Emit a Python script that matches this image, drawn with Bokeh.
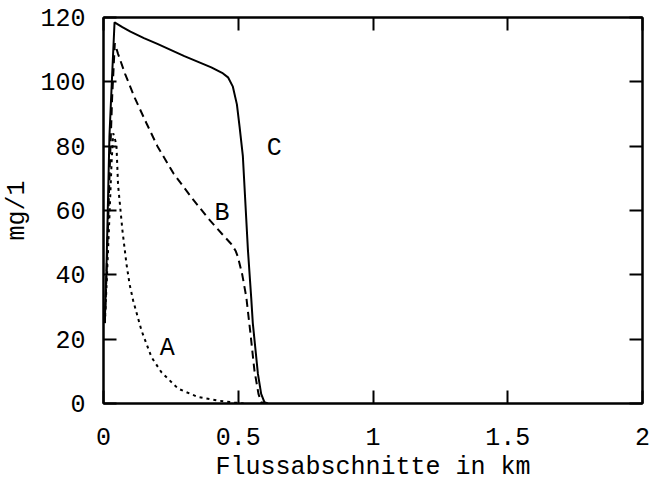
from bokeh.plotting import figure
from bokeh.models import LinearAxis, FixedTicker, Label
from bokeh.embed import file_html
from bokeh.resources import INLINE

# Curve A (dotted)
xa = [0.005, 0.012, 0.022, 0.030, 0.036, 0.048, 0.054, 0.070, 0.085, 0.097, 0.110, 0.141, 0.178, 0.215, 0.277, 0.351, 0.425, 0.485, 0.52]
ya = [25, 38, 58, 75, 84, 80.5, 68, 54, 43.5, 37, 32, 22.7, 14.4, 9.7, 4.6, 2.0, 0.9, 0.3, 0.0]

# Curve B (dashed)
xb = [0.005, 0.012, 0.022, 0.032, 0.042, 0.054, 0.080, 0.116, 0.159, 0.200, 0.260, 0.326, 0.388, 0.440, 0.474, 0.490, 0.499, 0.515, 0.530, 0.545, 0.560, 0.575, 0.585, 0.600]
yb = [25, 42, 70, 95, 112, 108.7, 102.5, 95.0, 87.2, 80.0, 71.5, 64.1, 57.6, 52.7, 49.6, 47.5, 45.5, 40, 33, 22, 10.3, 3, 0.4, 0.0]

# Curve C (solid)
xc = [0.005, 0.011, 0.022, 0.032, 0.041, 0.070, 0.100, 0.150, 0.200, 0.300, 0.400, 0.440, 0.462, 0.480, 0.495, 0.505, 0.517, 0.536, 0.548, 0.554, 0.573, 0.585, 0.597, 0.610]
yc = [26, 42, 83, 102, 118.5, 117, 115.6, 113.6, 111.8, 108, 104.5, 102.8, 101.4, 98.5, 93, 86, 77, 47.6, 33, 25, 9.2, 3, 0.4, 0.0]

curve_labels = ["A", "B", "C"]
label_x = [0.237, 0.44, 0.634]
label_y = [17, 59.2, 79.2]

x_ticks = [0, 0.5, 1, 1.5, 2]
x_tick_labels = ["0", "0.5", "1", "1.5", "2"]
y_ticks = [0, 20, 40, 60, 80, 100, 120]

FONT = "Liberation Mono"
FS = "25px"

p = figure(width=653, height=485, x_range=(0, 2), y_range=(0, 120),
           output_backend="svg", toolbar_location=None,
           x_axis_location=None, y_axis_location=None,
           min_border_left=102, min_border_right=11, min_border_top=17, min_border_bottom=82)
p.grid.visible = False
p.outline_line_color = "black"
p.outline_line_width = 2
p.background_fill_color = "white"
p.border_fill_color = "white"

def make_axis(ticks, labels=True):
    ax = LinearAxis(ticker=FixedTicker(ticks=ticks))
    ax.major_tick_in = 13
    ax.major_tick_out = 0
    ax.minor_tick_line_color = None
    ax.axis_line_color = "black"
    ax.axis_line_width = 2
    ax.major_tick_line_width = 2
    ax.major_tick_line_color = "black"
    ax.major_label_text_font = FONT
    ax.major_label_text_font_size = FS if labels else "0px"
    ax.major_label_text_color = "black"
    ax.axis_label_text_font = FONT
    ax.axis_label_text_font_size = FS
    ax.axis_label_text_font_style = "normal"
    ax.axis_label_text_color = "black"
    if not labels:
        ax.major_label_standoff = 0
        ax.major_label_text_color = None
    return ax

xb_axis = make_axis(x_ticks)
xb_axis.major_label_overrides = {t: l for t, l in zip(x_ticks, x_tick_labels)}
xb_axis.axis_label = "Flussabschnitte in km"
xb_axis.major_label_standoff = 24
xb_axis.axis_label_standoff = 5
p.add_layout(xb_axis, "below")

yl_axis = make_axis(y_ticks)
yl_axis.axis_label = "mg/1"
yl_axis.major_label_standoff = 18
yl_axis.axis_label_standoff = 5
p.add_layout(yl_axis, "left")

p.add_layout(make_axis(x_ticks, labels=False), "above")
p.add_layout(make_axis(y_ticks, labels=False), "right")

p.line(xa, ya, line_color="black", line_width=2, line_dash="3 4")
p.line(xb, yb, line_color="black", line_width=2, line_dash="8 5")
p.line(xc, yc, line_color="black", line_width=2)

for t, lx, ly in zip(curve_labels, label_x, label_y):
    p.add_layout(Label(x=lx, y=ly, text=t, text_font=FONT, text_font_size=FS,
                       text_align="center", text_baseline="middle", text_color="black"))

open("out.html", "w").write(file_html(p, INLINE))
